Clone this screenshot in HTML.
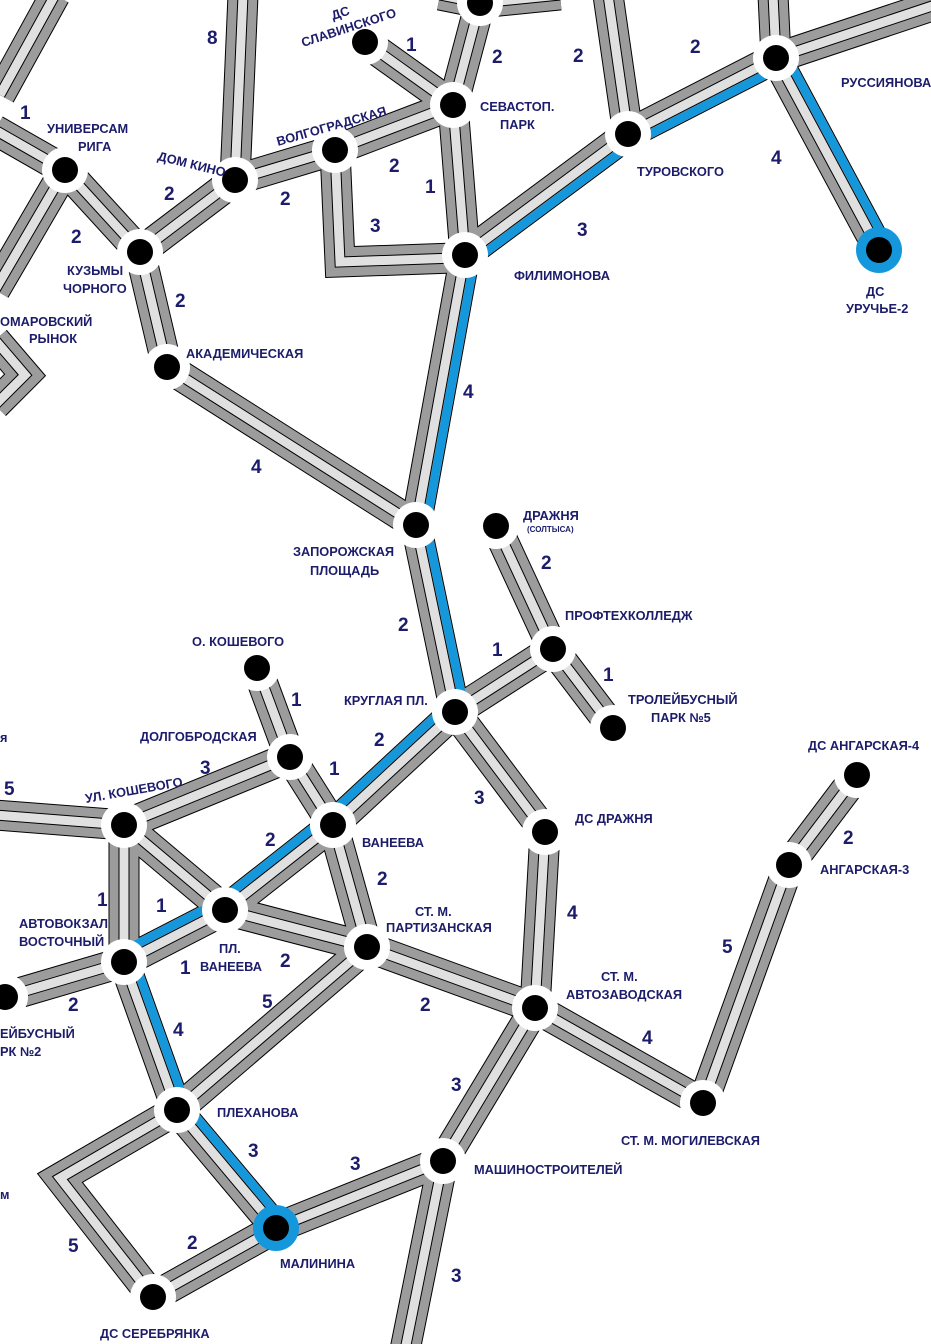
<!DOCTYPE html>
<html><head><meta charset="utf-8">
<style>
html,body{margin:0;padding:0;background:#fff;}
svg{display:block;}
text{font-family:"Liberation Sans",sans-serif;font-weight:bold;fill:#1c1c6b;}
.n{font-size:12.8px;}
.s{font-size:19px;}
</style></head>
<body>
<svg id="m" width="931" height="1344" viewBox="0 0 931 1344" xmlns="http://www.w3.org/2000/svg">
<g id="roads"></g>
<g id="blue"></g>
<g id="nodes"></g>
<g id="labels">
<text class="n" x="47" y="133">УНИВЕРСАМ</text><text class="n" x="78" y="151">РИГА</text>
<text class="n" x="67" y="275">КУЗЬМЫ</text><text class="n" x="63" y="293">ЧОРНОГО</text>
<text class="n" x="0" y="326">ОМАРОВСКИЙ</text><text class="n" x="29" y="343">РЫНОК</text>
<text class="n" transform="translate(157,160) rotate(14)">ДОМ КИНО</text>
<text class="n" transform="translate(278,146) rotate(-16)">ВОЛГОГРАДСКАЯ</text>
<text class="n" transform="translate(303,47) rotate(-18)">СЛАВИНСКОГО</text>
<text class="n" transform="translate(333,20) rotate(-18)">ДС</text>
<text class="n" x="480" y="111">СЕВАСТОП.</text><text class="n" x="500" y="129">ПАРК</text>
<text class="n" x="637" y="176">ТУРОВСКОГО</text>
<text class="n" x="841" y="87">РУССИЯНОВА</text>
<text class="n" x="866" y="296">ДС</text><text class="n" x="846" y="313">УРУЧЬЕ-2</text>
<text class="n" x="514" y="280">ФИЛИМОНОВА</text>
<text class="n" x="186" y="358">АКАДЕМИЧЕСКАЯ</text>
<text class="n" x="293" y="556">ЗАПОРОЖСКАЯ</text><text class="n" x="310" y="575">ПЛОЩАДЬ</text>
<text class="n" x="523" y="520">ДРАЖНЯ</text>
<text x="527" y="532" style="font-size:8px">(СОЛТЫСА)</text>
<text class="n" x="565" y="620">ПРОФТЕХКОЛЛЕДЖ</text>
<text class="n" x="628" y="704">ТРОЛЕЙБУСНЫЙ</text><text class="n" x="651" y="722">ПАРК №5</text>
<text class="n" x="192" y="646">О. КОШЕВОГО</text>
<text class="n" x="344" y="705">КРУГЛАЯ ПЛ.</text>
<text class="n" x="140" y="741">ДОЛГОБРОДСКАЯ</text>
<text class="n" x="0" y="742">я</text>
<text class="n" transform="translate(86,803) rotate(-10)">УЛ. КОШЕВОГО</text>
<text class="n" x="362" y="847">ВАНЕЕВА</text>
<text class="n" x="575" y="823">ДС ДРАЖНЯ</text>
<text class="n" x="808" y="750">ДС АНГАРСКАЯ-4</text>
<text class="n" x="820" y="874">АНГАРСКАЯ-3</text>
<text class="n" x="19" y="928">АВТОВОКЗАЛ</text><text class="n" x="19" y="946">ВОСТОЧНЫЙ</text>
<text class="n" x="415" y="916">СТ. М.</text><text class="n" x="386" y="932">ПАРТИЗАНСКАЯ</text>
<text class="n" x="219" y="953">ПЛ.</text><text class="n" x="200" y="971">ВАНЕЕВА</text>
<text class="n" x="601" y="981">СТ. М.</text><text class="n" x="566" y="999">АВТОЗАВОДСКАЯ</text>
<text class="n" x="0" y="1038">ЕЙБУСНЫЙ</text><text class="n" x="0" y="1056">РК №2</text>
<text class="n" x="217" y="1117">ПЛЕХАНОВА</text>
<text class="n" x="621" y="1145">СТ. М. МОГИЛЕВСКАЯ</text>
<text class="n" x="474" y="1174">МАШИНОСТРОИТЕЛЕЙ</text>
<text class="n" x="0" y="1199">м</text>
<text class="n" x="280" y="1268">МАЛИНИНА</text>
<text class="n" x="100" y="1338">ДС СЕРЕБРЯНКА</text>
<text class="s" x="20" y="119">1</text>
<text class="s" x="207" y="44">8</text>
<text class="s" x="406" y="51">1</text>
<text class="s" x="492" y="63">2</text>
<text class="s" x="573" y="62">2</text>
<text class="s" x="690" y="53">2</text>
<text class="s" x="771" y="164">4</text>
<text class="s" x="164" y="200">2</text>
<text class="s" x="71" y="243">2</text>
<text class="s" x="280" y="205">2</text>
<text class="s" x="389" y="172">2</text>
<text class="s" x="425" y="193">1</text>
<text class="s" x="370" y="232">3</text>
<text class="s" x="577" y="236">3</text>
<text class="s" x="175" y="307">2</text>
<text class="s" x="463" y="398">4</text>
<text class="s" x="251" y="473">4</text>
<text class="s" x="541" y="569">2</text>
<text class="s" x="398" y="631">2</text>
<text class="s" x="492" y="656">1</text>
<text class="s" x="603" y="681">1</text>
<text class="s" x="291" y="706">1</text>
<text class="s" x="374" y="746">2</text>
<text class="s" x="329" y="775">1</text>
<text class="s" x="200" y="774">3</text>
<text class="s" x="4" y="795">5</text>
<text class="s" x="474" y="804">3</text>
<text class="s" x="843" y="844">2</text>
<text class="s" x="265" y="846">2</text>
<text class="s" x="377" y="885">2</text>
<text class="s" x="567" y="919">4</text>
<text class="s" x="97" y="906">1</text>
<text class="s" x="156" y="912">1</text>
<text class="s" x="722" y="953">5</text>
<text class="s" x="180" y="974">1</text>
<text class="s" x="280" y="967">2</text>
<text class="s" x="68" y="1011">2</text>
<text class="s" x="420" y="1011">2</text>
<text class="s" x="262" y="1008">5</text>
<text class="s" x="642" y="1044">4</text>
<text class="s" x="173" y="1036">4</text>
<text class="s" x="451" y="1091">3</text>
<text class="s" x="248" y="1157">3</text>
<text class="s" x="350" y="1170">3</text>
<text class="s" x="187" y="1249">2</text>
<text class="s" x="68" y="1252">5</text>
<text class="s" x="451" y="1282">3</text>
</g>
</svg>
<script>
var N={A:[65,170],B:[140,252],C:[235,180],D:[335,150],E:[453,105],F:[480,3],G:[365,42],H:[465,255],I:[628,134],J:[776,58],K:[879,250],L:[167,367],M:[416,525],Nd:[496,526],O:[553,649],P:[613,728],Q:[455,712],R:[257,668],S:[290,757],T:[333,825],U:[124,825],V:[225,910],W:[124,962],X:[5,997],Y:[367,947],Z:[545,832],AA:[535,1008],AB:[703,1103],AC:[789,865],AD:[857,775],AE:[177,1110],AF:[276,1228],AG:[443,1161],AH:[153,1297]};
function P(k){return typeof k=="string"?N[k]:k;}
var roads=[
[[0,95],[55,-5]],
['A',[-5,130]],['A',[-5,290]],[[-5,340],[25,375],[-5,405]],
['A','B'],['B','C'],['C',[243,-5]],['C','D'],['D','E'],['G','E'],['E','F'],['F',[560,-5]],['F',[440,-5]],
['D',[340,262],[455,258],'H'],['E','H'],['H','I'],['I',[608,-5]],['I','J'],['J',[773,-5]],['J',[935,5]],['J','K'],
['B','L'],['L','M'],['H','M'],['M','Q'],['Nd','O'],['O','P'],['Q','O'],
['R','S'],['S','U'],['S','T'],['Q','T'],['T','V'],['U','V'],['U','W'],['U',[-5,815]],['V','W'],['W','X'],
['V','Y'],['T','Y'],['Y','AA'],['Q','Z'],['Z','AA'],['AA','AB'],['AB','AC'],['AC','AD'],
['W','AE'],['AE','Y'],['AE','AF'],['AA','AG'],['AG','AF'],['AG',[405,1350]],
['AE',[60,1178],'AH'],['AH','AF']];
var blues=[['H','I',1],['I','J',1],['J','K',-1],['H','M',-1],['M','Q',-1],['Q','T',1],['T','V',1],['V','W',1],['W','AE',-1],['AE','AF',-1]];
var NS="http://www.w3.org/2000/svg";
function el(t,a,p){var e=document.createElementNS(NS,t);for(var k in a)e.setAttribute(k,a[k]);p.appendChild(e);return e;}
var rg=document.getElementById('roads'),bg=document.getElementById('blue'),ng=document.getElementById('nodes');
var layers=[['#000',31],['#9c9c9c',29],['#000',11],['#e0e0e0',9]];
layers.forEach(function(L){roads.forEach(function(r){
 var pts=r.map(P).map(function(p){return p.join(',')}).join(' ');
 el('polyline',{points:pts,fill:'none',stroke:L[0],'stroke-width':L[1],'stroke-linejoin':'miter','stroke-miterlimit':10},rg);
});});
blues.forEach(function(b){var a=P(b[0]),c=P(b[1]);var dx=c[0]-a[0],dy=c[1]-a[1],l=Math.hypot(dx,dy);
 var ux=-dy/l*b[2],uy=dx/l*b[2];
 el('line',{x1:a[0]+ux*10,y1:a[1]+uy*10,x2:c[0]+ux*10,y2:c[1]+uy*10,stroke:'#1597dc','stroke-width':8.5},bg);
});
for(var k in N){var p=N[k];var blue=(k=='AF'||k=='K');
 el('circle',{cx:p[0],cy:p[1],r:23,fill:blue?'#1597dc':'#fff'},ng);
 el('circle',{cx:p[0],cy:p[1],r:13,fill:'#000'},ng);}
</script>
</body></html>
